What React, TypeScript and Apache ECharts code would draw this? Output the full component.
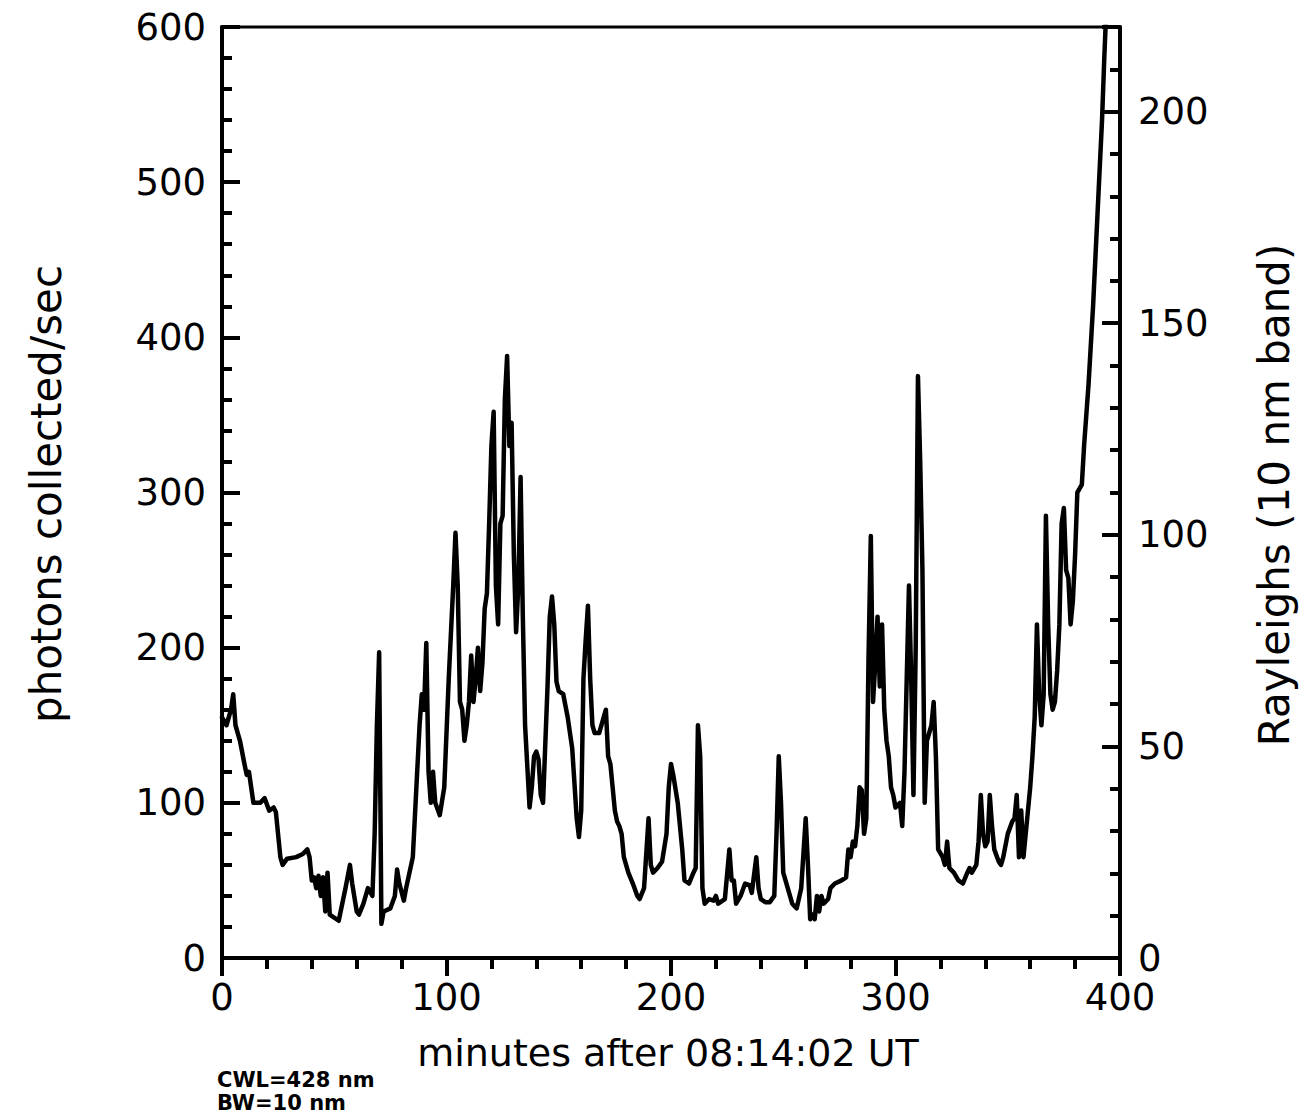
import React, { useEffect, useRef } from "react";
import * as echarts from "echarts";

const minutes = [
  0, 2, 4, 5, 6, 8, 10, 11, 12, 13, 14, 17, 19, 21, 23, 24, 26, 27, 29, 33, 36, 38, 39, 40, 41, 42, 43, 44, 45, 46, 47, 48,
  52, 54, 55, 57, 58, 60, 61, 63, 65, 67, 68, 69, 70, 71, 72, 75, 77, 78, 79, 81, 82, 85, 88, 89, 90, 91, 92, 93, 94, 95,
  97, 99, 101, 103, 104, 105, 106, 107, 108, 109, 110, 111, 112, 113, 114, 115, 116, 117, 118, 119, 120, 121, 122, 123,
  124, 125, 126, 127, 128, 129, 130, 131, 132, 133, 134, 135, 137, 138, 139, 140, 141, 142, 143, 145, 146, 147, 148, 149,
  150, 152, 154, 156, 158, 159, 160, 161, 162, 163, 164, 165, 166, 168, 170, 171, 172, 173, 175, 176, 177, 178, 179, 181,
  183, 185, 186, 188, 190, 191, 192, 194, 196, 198, 199, 200, 201, 203, 205, 206, 208, 210, 211, 212, 213, 214, 215, 217,
  219, 220, 221, 224, 226, 227, 228, 229, 231, 233, 235, 236, 238, 239, 240, 242, 244, 246, 247, 248, 249, 250, 252, 254,
  256, 258, 260, 261, 262, 263, 264, 265, 266, 267, 268, 270, 271, 273, 276, 278, 279, 280, 281, 282, 283, 284, 285, 286,
  287, 288, 289, 290, 291, 292, 293, 294, 295, 296, 297, 298, 299, 300, 302, 303, 304, 305, 306, 307, 308, 309, 310, 311,
  312, 313, 314, 316, 317, 318, 319, 321, 322, 323, 324, 326, 328, 330, 332, 333, 334, 336, 337, 338, 339, 340, 341, 342,
  343, 344, 346, 347, 348, 350, 352, 353, 354, 355, 356, 357, 358, 359, 360, 361, 362, 363, 364, 365, 366, 367, 368, 369,
  370, 371, 372, 373, 374, 375, 376, 377, 378, 379, 380, 381, 383, 384, 386, 388, 390, 392, 393, 395,
];

const photons = [
  155, 150, 160, 170, 150, 140, 125, 118, 120, 110, 100, 100, 103, 95, 97, 94, 65, 60, 64, 65, 67, 70, 65, 50, 52, 45, 53, 40, 52, 30, 55, 28,
  24, 38, 45, 60, 48, 30, 28, 35, 45, 40, 80, 150, 197, 22, 30, 32, 40, 57, 48, 37, 45, 65, 150, 170, 160, 203, 120, 100, 120, 100,
  92, 110, 180, 240, 274, 240, 165, 160, 140, 150, 165, 195, 165, 180, 200, 172, 190, 225, 235, 280, 330, 352, 240, 215,
  280, 285, 360, 388, 330, 345, 260, 210, 240, 310, 220, 150, 97, 110, 130, 133, 128, 105, 100, 175, 220, 233, 215, 178,
  172, 170, 155, 135, 90, 78, 95, 180, 205, 227, 180, 150, 145, 145, 155, 160, 130, 125, 95, 88, 85, 80, 65, 55,
  48, 40, 38, 45, 90, 60, 55, 58, 62, 80, 110, 125, 118, 100, 70, 50, 48, 55, 58, 150, 130, 45, 35, 38,
  37, 40, 35, 38, 70, 50, 50, 35, 40, 48, 47, 42, 65, 45, 38, 36, 36, 40, 80, 130, 100, 55, 45, 35,
  32, 45, 90, 60, 25, 28, 25, 40, 30, 40, 35, 38, 45, 48, 50, 52, 70, 65, 75, 72, 85, 110, 108, 80,
  90, 195, 272, 165, 190, 220, 175, 215, 160, 140, 130, 110, 105, 97, 100, 85, 120, 180, 240, 180, 105, 200, 375, 320,
  250, 100, 140, 150, 165, 130, 70, 65, 60, 75, 58, 55, 50, 48, 55, 58, 55, 60, 75, 105, 80, 72, 75, 105,
  85, 70, 62, 60, 65, 80, 88, 90, 105, 65, 95, 65, 80, 95, 110, 130, 155, 215, 170, 150, 170, 285, 215, 170,
  160, 165, 185, 215, 280, 290, 250, 245, 215, 230, 260, 300, 305, 330, 370, 420, 480, 540, 580, 650,
];

const leftTicks = [0, 100, 200, 300, 400, 500, 600];
const rightTicks = [0, 50, 100, 150, 200];
const bottomTicks = [0, 100, 200, 300, 400];

const FONT = "DejaVu Sans";

export default function App() {
  const ref = useRef<HTMLDivElement>(null);
  useEffect(() => {
    document.body.style.margin = "0";
    const chart = echarts.init(ref.current!, undefined, { renderer: "svg" });
    const data = minutes.map((m, i) => [m, photons[i]]);
    const labelBase = { fontFamily: FONT, fontSize: 37, color: "#000", lineHeight: 28 };
    chart.setOption({
      animation: false,
      backgroundColor: "#ffffff",
      grid: {
        left: 222,
        right: 194,
        top: 27,
        bottom: 162,
        show: true,
        borderColor: "#000",
        borderWidth: 3,
        backgroundColor: "transparent",
      },
      xAxis: {
        type: "value",
        min: bottomTicks[0],
        max: bottomTicks[bottomTicks.length - 1],
        interval: 100,
        axisLine: { show: true, lineStyle: { color: "#000", width: 4 } },
        axisTick: { show: true, inside: false, length: 18, lineStyle: { color: "#000", width: 4 } },
        minorTick: { show: true, splitNumber: 5, length: 11, lineStyle: { color: "#000", width: 4 } },
        splitLine: { show: false },
        axisLabel: { ...labelBase, margin: 25 },
      },
      yAxis: [
        {
          type: "value",
          position: "left",
          min: leftTicks[0],
          max: leftTicks[leftTicks.length - 1],
          interval: 100,
          axisLine: { show: true, lineStyle: { color: "#000", width: 4 } },
          axisTick: { show: true, inside: true, length: 18, lineStyle: { color: "#000", width: 4 } },
          minorTick: { show: true, splitNumber: 5, length: 10, lineStyle: { color: "#000", width: 4 } },
          splitLine: { show: false },
          axisLabel: { ...labelBase, margin: 16 },
        },
        {
          type: "value",
          position: "right",
          min: 0,
          max: 220,
          interval: 50,
          axisLine: { show: true, lineStyle: { color: "#000", width: 4 } },
          axisTick: { show: true, inside: true, length: 18, lineStyle: { color: "#000", width: 4 } },
          minorTick: { show: true, splitNumber: 5, length: 10, lineStyle: { color: "#000", width: 4 } },
          splitLine: { show: false },
          axisLabel: {
            ...labelBase,
            margin: 18,
            padding: [0, 0, 6, 0],
            formatter: (v: number) => (rightTicks.includes(v) ? String(v) : ""),
          },
        },
      ],
      series: [
        {
          type: "line",
          data,
          yAxisIndex: 0,
          symbol: "none",
          clip: true,
          lineStyle: { color: "#000", width: 4.5, join: "round", cap: "round" },
        },
      ],
      graphic: [
        {
          type: "text",
          x: 46,
          y: 494,
          rotation: Math.PI / 2,
          style: {
            text: "photons collected/sec",
            fontFamily: FONT,
            fontSize: 42,
            fill: "#000",
            align: "center",
            verticalAlign: "middle",
          },
        },
        {
          type: "text",
          x: 1274,
          y: 495,
          rotation: Math.PI / 2,
          style: {
            text: "Rayleighs (10 nm band)",
            fontFamily: FONT,
            fontSize: 42,
            fill: "#000",
            align: "center",
            verticalAlign: "middle",
          },
        },
        {
          type: "text",
          x: 668,
          y: 1053,
          style: {
            text: "minutes after 08:14:02 UT",
            fontFamily: FONT,
            fontSize: 38,
            lineHeight: 30,
            fill: "#000",
            align: "center",
            verticalAlign: "middle",
          },
        },
        {
          type: "text",
          x: 217,
          y: 1080,
          style: {
            text: "CWL=428 nm",
            fontFamily: FONT,
            fontWeight: "bold",
            fontSize: 21,
            lineHeight: 20,
            fill: "#000",
            align: "left",
            verticalAlign: "middle",
          },
        },
        {
          type: "text",
          x: 217,
          y: 1103,
          style: {
            text: "BW=10 nm",
            fontFamily: FONT,
            fontWeight: "bold",
            fontSize: 21,
            lineHeight: 20,
            fill: "#000",
            align: "left",
            verticalAlign: "middle",
          },
        },
      ],
    });
    return () => chart.dispose();
  }, []);
  return (
    <div
      ref={ref}
      style={{ position: "absolute", left: 0, top: 0, width: 1314, height: 1120, background: "#fff" }}
    />
  );
}
